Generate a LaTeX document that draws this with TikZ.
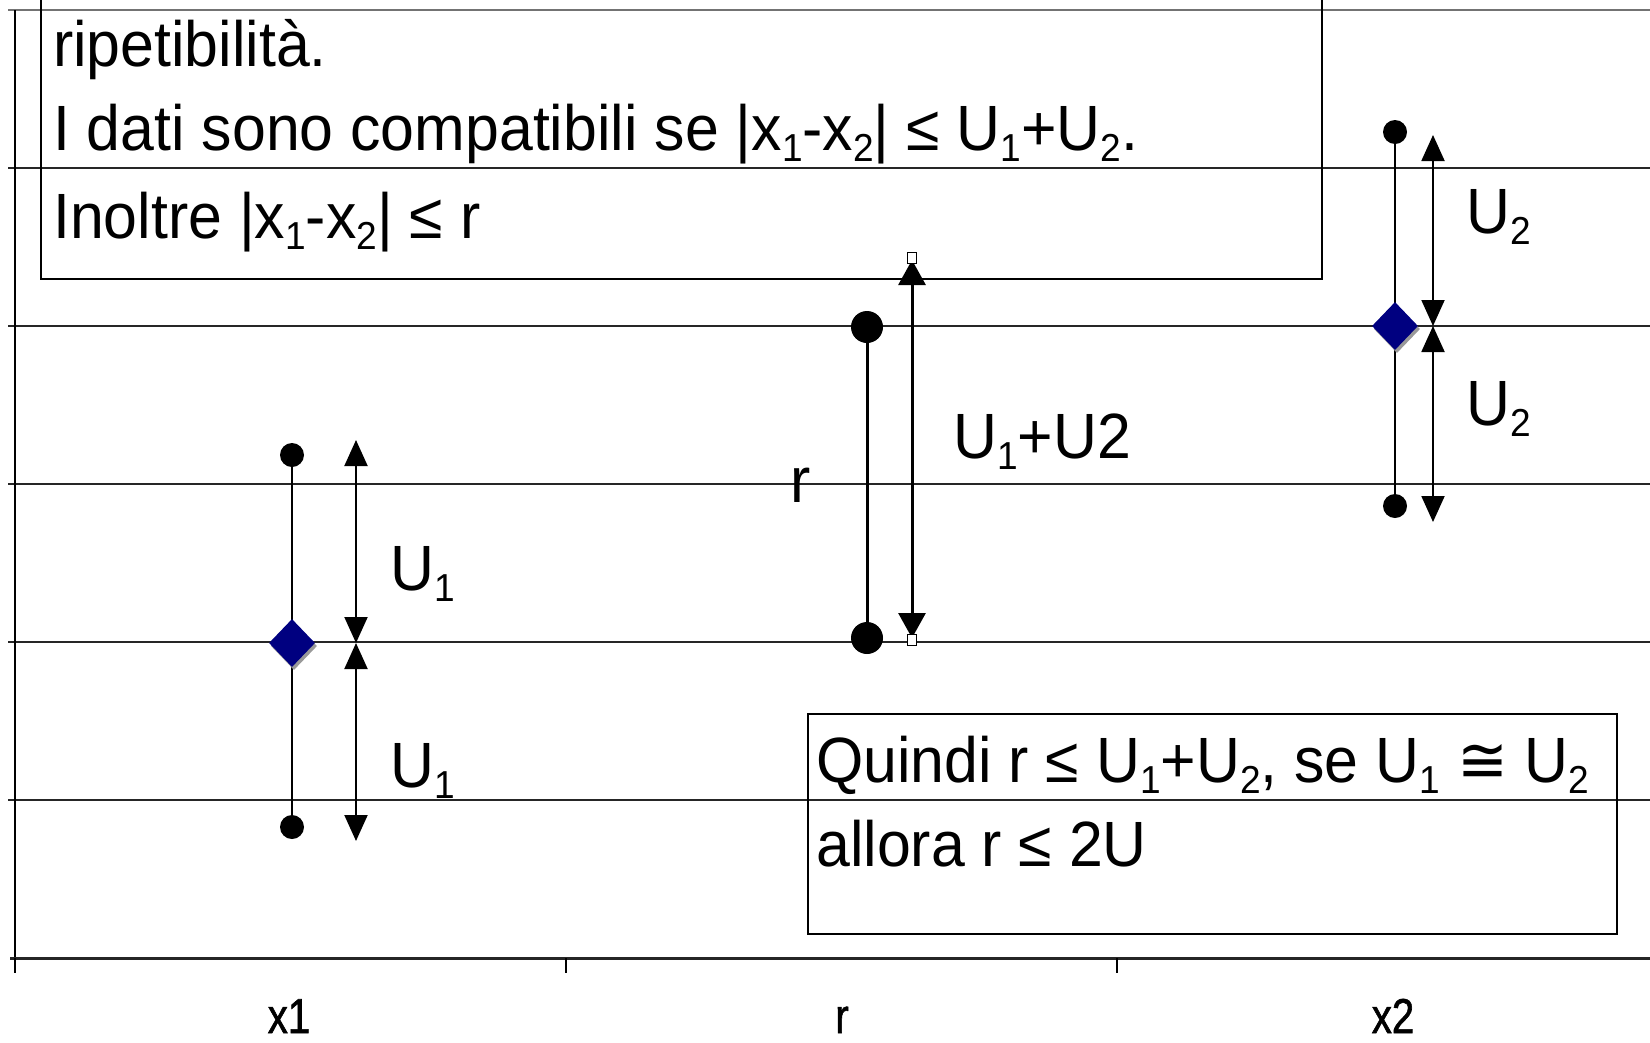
\documentclass[tikz,border=0pt]{standalone}
\usepackage{fontspec}
\setmainfont{Liberation Sans}[FakeStretch=0.95]
\newfontfamily\narrowfont{Liberation Sans}[FakeStretch=0.82,FakeBold=1.2]
\newfontfamily\dejavu{DejaVu Sans}[FakeStretch=0.95]
\usetikzlibrary{arrows.meta,shapes.geometric}
\newcommand{\sbx}[1]{\raisebox{-11pt}{\fontsize{39}{39}\selectfont #1}}
\definecolor{navyd}{RGB}{0,0,128}
\begin{document}
\begin{tikzpicture}[x=1pt,y=-1pt,
  gline/.style={line width=1.4pt, black!85},
  ebar/.style={line width=2pt},
  rbar/.style={line width=3pt},
  edot/.style={circle, fill=black, inner sep=0pt, minimum size=24pt},
  bigdot/.style={circle, fill=black, inner sep=0pt, minimum size=32pt},
  mdiam/.style={diamond, fill=navyd, inner sep=0pt, minimum width=46pt, minimum height=48pt},
  shdiam/.style={diamond, fill=black!40, inner sep=0pt, minimum width=46pt, minimum height=48pt},
  dimarrow/.style={line width=2pt, {Triangle[length=26pt,width=23pt]}-{Triangle[length=26pt,width=23pt]}},
  bigdimarrow/.style={line width=3pt, {Triangle[length=25pt,width=27pt]}-{Triangle[length=25pt,width=27pt]}},
  hbox/.style={draw=black, fill=white, line width=1pt, inner sep=0pt, minimum width=9pt, minimum height=11pt},
  txt/.style={anchor=base west, inner sep=0pt, font=\fontsize{64}{64}\selectfont},
  catlbl/.style={anchor=base, inner sep=0pt, font=\narrowfont\fontsize{49}{49}\selectfont},
]
\useasboundingbox (0,0) rectangle (1650,1042);
\clip (0,0) rectangle (1650,1042);
\fill[white] (0,0) rectangle (1650,1042);

% grid lines
\draw[line width=2.2pt, black!55] (8,10) -- (1650,10);
\foreach \yy in {168,326,484,642,800} \draw[gline] (8,\yy) -- (1650,\yy);
% axes
\draw[line width=1.5pt] (15,10) -- (15,958);
\draw[line width=3pt, black!85] (10,958) -- (1650,958);
\foreach \xx in {15,566,1117} \draw[line width=1.2pt] (\xx,958) -- (\xx,973);
\node[catlbl] (c1) at (289,1033) {x1};
\node[catlbl] (c2) at (842,1033) {r};
\node[catlbl] (c3) at (1393,1033) {x2};

% top text box
\draw[line width=2.5pt] (41,-10) rectangle (1322,279);
\node[txt] (t1) at (53,66) {ripetibilità.};
\node[txt] (t2) at (53,150) {I dati sono compatibili se |x\sbx{1}-x\sbx{2}| ≤ U\sbx{1}+U\sbx{2}.};
\node[txt] (t3) at (53,238) {Inoltre |x\sbx{1}-x\sbx{2}| ≤ r};

% bottom text box
\draw[line width=1.5pt] (808,714) rectangle (1617,934);
\node[txt] (b1) at (816,782) {Quindi r ≤ U\sbx{1}+U\sbx{2}, se U\sbx{1} {\dejavu ≅} U\sbx{2}};
\node[txt] (b2) at (816,866) {allora r ≤ 2U};

% x1 error bar
\node[edot] (x1t) at (292,455) {};
\node[edot] (x1b) at (292,827) {};
\draw[ebar] (x1t.center) -- (x1b.center);
\node[shdiam] (x1s) at (294,646) {};
\node[mdiam] (x1d) at (292,643) {};
\coordinate (a1t) at (356,440);
\coordinate (a1m) at (356,643);
\coordinate (a1b) at (356,841);
\draw[dimarrow] (a1m) -- (a1t);
\draw[dimarrow] (a1m) -- (a1b);
\node[txt] (u1a) at (390,590) {U\sbx{1}};
\node[txt] (u1b) at (390,787) {U\sbx{1}};

% r bar
\node[bigdot] (rt) at (867,327) {};
\node[bigdot] (rb) at (867,638) {};
\draw[rbar] (rt.center) -- (rb.center);
\coordinate (art) at (912,260);
\coordinate (arb) at (912,638);
\draw[bigdimarrow] (arb) -- (art);
\node[hbox] (h1) at (912,258) {};
\node[hbox] (h2) at (912,640) {};
\node[txt] (rl) at (790,502) {r};
\node[txt] (usum) at (953,458) {U\sbx{1}+U2};

% x2 error bar
\node[edot] (x2t) at (1395,132) {};
\node[edot] (x2b) at (1395,506) {};
\draw[ebar] (x2t.center) -- (x2b.center);
\node[shdiam] (x2s) at (1397,329) {};
\node[mdiam] (x2d) at (1395,326) {};
\coordinate (a2t) at (1433,135);
\coordinate (a2m) at (1433,326);
\coordinate (a2b) at (1433,522);
\draw[dimarrow] (a2m) -- (a2t);
\draw[dimarrow] (a2m) -- (a2b);
\node[txt] (u2a) at (1466,233) {U\sbx{2}};
\node[txt] (u2b) at (1466,425) {U\sbx{2}};
\end{tikzpicture}
\end{document}
